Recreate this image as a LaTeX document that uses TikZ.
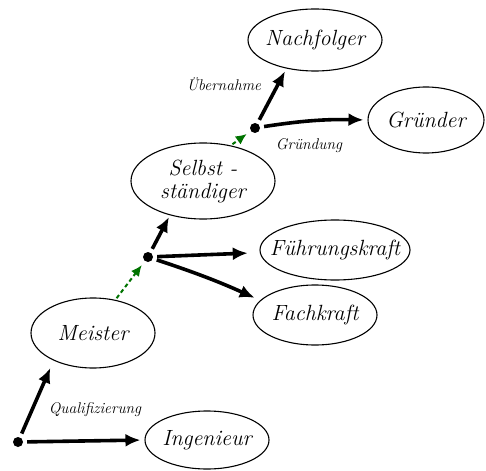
\documentclass[tikz,border=0pt]{standalone}
\usepackage{tikz}
\usetikzlibrary{shapes,arrows.meta,positioning}

\begin{document}
\begin{tikzpicture}[
    x=1pt, y=-1pt,
    rolle/.style={draw, ellipse, line width=1.1pt, inner sep=-14pt, align=center,
        font=\fontsize{22}{23}\selectfont\itshape},
    punkt/.style={circle, fill=black, inner sep=0pt, minimum size=10pt},
    weg/.style={-{Latex[length=15pt,width=13pt]}, line width=3.6pt, shorten <=4pt},
    wechsel/.style={-{Latex[length=11pt,width=10pt]}, line width=2pt,
        dash pattern=on 4pt off 3pt, draw=green!45!black, shorten <=2pt, shorten >=5pt},
    beschr/.style={font=\fontsize{15.5}{17}\selectfont\itshape}
]
    \useasboundingbox (0,0) rectangle (486,470);

    % Rollen
    \node[rolle, minimum width=134pt, minimum height=62pt] (nach) at (315,40) {Nachfolger};
    \node[rolle, minimum width=116pt, minimum height=66pt] (gruen) at (426,120) {Gründer};
    \node[rolle, minimum width=144pt, minimum height=76pt] (selb) at (203,181) {Selbst -\\ständiger};
    \node[rolle, minimum width=150pt, minimum height=60pt] (fuehr) at (335,250) {Führungskraft};
    \node[rolle, minimum width=124pt, minimum height=60pt] (fach) at (315,315) {Fachkraft};
    \node[rolle, minimum width=124pt, minimum height=70pt] (meis) at (93,333) {Meister};
    \node[rolle, minimum width=124pt, minimum height=58pt] (ing) at (207,440) {Ingenieur};

    % Verzweigungen
    \node[punkt] (p0) at (18,442) {};
    \node[punkt] (p1) at (148,257) {};
    \node[punkt] (p2) at (255,128) {};

    % Wege
    \draw[weg, shorten >=8pt] (p0) -- (meis.215);
    \draw[weg, shorten >=4pt] (p0) -- (ing.west);
    \draw[wechsel] (meis.56) -- (p1);
    \draw[weg, shorten >=2pt] (p1) -- (selb.226);
    \draw[weg, shorten >=12pt] (p1) -- (fuehr.182);
    \draw[weg, shorten >=6pt] (p1) to[bend left=3] (fach.165);
    \draw[wechsel] (selb.52) -- (p2);
    \draw[weg, shorten >=3pt] (p2) -- (nach.225);
    \draw[weg, shorten >=4pt] (p2) to[bend left=5] (gruen.west);

    % Beschriftungen
    \node[beschr] (quali) at (95,410) {Qualifizierung};
    \node[beschr] (uebern) at (224,84) {Übernahme};
    \node[beschr] (gruend) at (309,146) {Gründung};
\end{tikzpicture}
\end{document}
